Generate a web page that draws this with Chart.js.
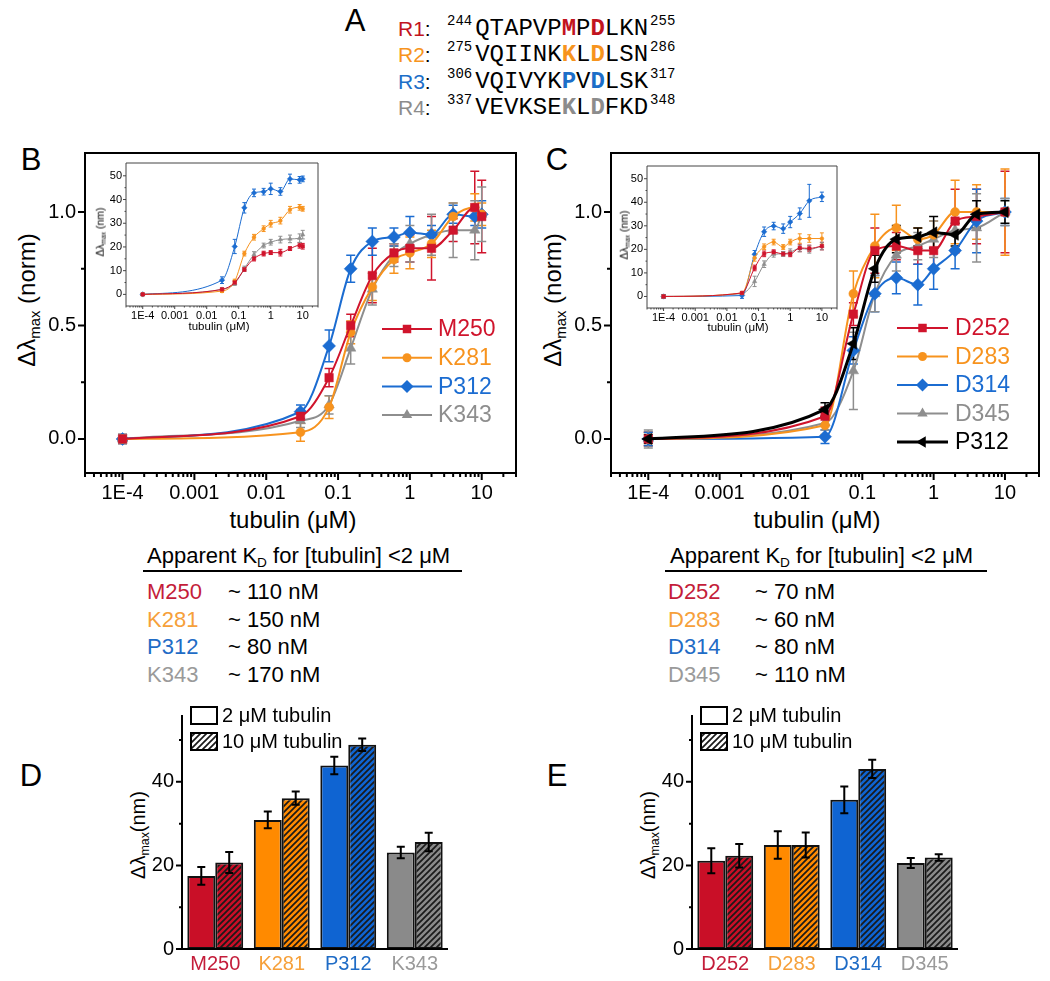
<!DOCTYPE html>
<html>
<head>
<meta charset="utf-8">
<title>Tubulin binding of R1-R4 mutants</title>
<script src="https://cdn.jsdelivr.net/npm/chart.js@4.4.1/dist/chart.umd.min.js"></script>
<style>
  html, body { margin: 0; padding: 0; background: #fff; }
  #page { position: relative; width: 1050px; height: 981px; overflow: hidden;
          font-family: 'Liberation Sans', Arial, sans-serif; color: #000; }
  #page canvas { position: absolute; }
  .txt { position: absolute; white-space: nowrap; line-height: 1; }
  .mid { transform: translate(-50%, -50%); }
  .lft { transform: translate(0, -50%); }
  .rot { transform: translate(-50%, -50%) rotate(-90deg); }
  .letter { font-size: 31px; }
  .sub { font-size: 62%; position: relative; top: 0.32em; }
  .seq { position: absolute; height: 24px; line-height: 24px; white-space: nowrap; }
  .seq .tag { position: absolute; left: 0; font-size: 21px; }
  .seq .aa { position: absolute; left: 49px; font-family: 'Liberation Mono', 'DejaVu Sans Mono', monospace; font-size: 24px; }
  .seq .sup { font-size: 14px; position: relative; top: -10px; margin: 0 3px 0 0; }
  .seq .sup.end { margin: 0 0 0 2px; }
  .seq b { font-weight: bold; }
  .rule { position: absolute; height: 2px; background: #000; }
</style>
</head>
<body>
<div id="page">
  <div class="txt mid letter" style="left:355px;top:20px">A</div>
  <div class="txt mid letter" style="left:31px;top:159px">B</div>
  <div class="txt mid letter" style="left:557px;top:159px">C</div>
  <div class="txt mid letter" style="left:31px;top:775px">D</div>
  <div class="txt mid letter" style="left:557px;top:775px">E</div>

  <div class="txt rot" style="left:27px;top:300px;font-size:24px">&Delta;&lambda;<span class="sub">max</span> (norm)</div>
  <div class="txt mid" style="left:293px;top:520px;font-size:24px">tubulin (&mu;M)</div>
  <div class="txt rot" style="left:553px;top:300px;font-size:24px">&Delta;&lambda;<span class="sub">max</span> (norm)</div>
  <div class="txt mid" style="left:817px;top:520px;font-size:24px">tubulin (&mu;M)</div>

  <div class="txt rot" style="left:100px;top:232px;font-size:10.5px;z-index:3">&Delta;&lambda;<span class="sub">max</span> (nm)</div>
  <div class="txt mid" style="left:219px;top:327px;font-size:11.5px;z-index:3">tubulin (&mu;M)</div>
  <div class="txt rot" style="left:624px;top:235px;font-size:10.5px;z-index:3">&Delta;&lambda;<span class="sub">max</span> (nm)</div>
  <div class="txt mid" style="left:738px;top:328px;font-size:11.5px;z-index:3">tubulin (&mu;M)</div>

  <div class="txt rot" style="left:138px;top:835px;font-size:20px">&Delta;&lambda;<span class="sub">max</span>(nm)</div>
  <div class="txt rot" style="left:648px;top:835px;font-size:20px">&Delta;&lambda;<span class="sub">max</span>(nm)</div>

  <div class="txt lft" style="left:147px;top:556px;font-size:22px">Apparent K<span class="sub">D</span> for [tubulin] &lt;2 &mu;M</div>
  <div class="rule" style="left:143px;top:570px;width:319px"></div>
  <div class="txt lft" style="left:670px;top:556px;font-size:22px">Apparent K<span class="sub">D</span> for [tubulin] &lt;2 &mu;M</div>
  <div class="rule" style="left:665px;top:570px;width:322px"></div>
</div>

<script>
// ---- data ----
// tubulin concentrations (uM); 1E-4 stands for the no-tubulin point
const concB = [1e-4, 0.03, 0.075, 0.15, 0.3, 0.6, 1, 2, 4, 8, 10];
const concC = [1e-4, 0.03, 0.075, 0.15, 0.3, 0.6, 1, 2, 4, 10];
const xDecades = [1e-4, 1e-3, 1e-2, 1e-1, 1, 10];
const xTickLabels = ['1E-4', '0.001', '0.01', '0.1', '1', '10'];

// panel B, normalised shift
const bM250 = [0, 0.10, 0.27, 0.50, 0.72, 0.82, 0.84, 0.84, 0.92, 1.02, 0.98];
const bK281 = [0, 0.03, 0.14, 0.47, 0.67, 0.79, 0.82, 0.86, 0.98, 1.02, 0.99];
const bP312 = [0, 0.12, 0.41, 0.75, 0.87, 0.89, 0.91, 0.90, 0.99, 0.98, 0.99];
const bK343 = [0, 0.08, 0.15, 0.40, 0.66, 0.81, 0.86, 0.90, 0.92, 0.92, 0.99];
const bM250Err = [0.02, 0.03, 0.04, 0.05, 0.12, 0.04, 0.06, 0.14, 0.05, 0.16, 0.16];
const bK281Err = [0.02, 0.04, 0.05, 0.05, 0.06, 0.06, 0.07, 0.06, 0.06, 0.06, 0.05];
const bP312Err = [0.02, 0.03, 0.07, 0.06, 0.06, 0.04, 0.07, 0.04, 0.04, 0.04, 0.06];
const bK343Err = [0.02, 0.03, 0.04, 0.07, 0.07, 0.05, 0.08, 0.09, 0.12, 0.13, 0.12];

// panel B inset, shift in nm
const ibM250 = [0, 2.1, 5.0, 10.5, 15.1, 17.2, 17.6, 17.6, 19.3, 20.7, 20.3];
const ibK281 = [0, 1.4, 5.6, 17.2, 24.1, 27.7, 29.8, 31.1, 35.7, 36.7, 36.1];
const ibP312 = [0, 6.0, 20.2, 36.5, 42.8, 43.3, 44.5, 43.4, 48.7, 48.3, 48.7];
const ibK343 = [0, 2.1, 4.6, 10.9, 16.8, 20.6, 22.0, 23.1, 23.4, 23.7, 25.2];
const ibM250Err = [0.4, 0.6, 0.8, 0.8, 1.0, 1.0, 0.8, 1.4, 0.8, 1.2, 1.2];
const ibK281Err = [0.4, 0.6, 0.8, 1.0, 1.2, 1.2, 1.4, 1.4, 1.4, 1.2, 1.0];
const ibP312Err = [0.4, 1.4, 3.0, 2.2, 1.6, 1.4, 2.4, 1.6, 2.0, 1.4, 1.2];
const ibK343Err = [0.4, 0.5, 0.8, 1.0, 1.2, 1.0, 1.2, 1.4, 1.6, 1.8, 1.8];

// panel C, normalised shift
const cD252 = [0, 0.10, 0.55, 0.83, 0.85, 0.83, 0.83, 0.96, 0.98, 1.00];
const cD283 = [0, 0.06, 0.64, 0.85, 0.93, 0.88, 0.90, 1.00, 1.00, 1.00];
const cD314 = [0, 0.01, 0.39, 0.64, 0.71, 0.68, 0.75, 0.83, 0.96, 1.00];
const cD345 = [0, 0.07, 0.30, 0.64, 0.81, 0.85, 0.88, 0.92, 0.93, 1.00];
const cP312 = [0, 0.13, 0.42, 0.75, 0.88, 0.89, 0.91, 0.90, 0.99, 1.00];
const cD252Err = [0.03, 0.04, 0.05, 0.10, 0.06, 0.06, 0.08, 0.14, 0.12, 0.18];
const cD283Err = [0.03, 0.04, 0.10, 0.14, 0.10, 0.05, 0.06, 0.14, 0.12, 0.19];
const cD314Err = [0.03, 0.03, 0.06, 0.08, 0.07, 0.09, 0.09, 0.08, 0.14, 0.06];
const cD345Err = [0.04, 0.03, 0.17, 0.08, 0.07, 0.06, 0.08, 0.08, 0.15, 0.06];
const cP312Err = [0.02, 0.03, 0.07, 0.06, 0.06, 0.04, 0.07, 0.05, 0.06, 0.05];

// panel C inset, shift in nm
const icD252 = [0, 1.5, 12.1, 18.1, 18.8, 18.1, 18.1, 20.6, 20.4, 21.4];
const icD283 = [0, 1.5, 16.4, 21.1, 23.1, 21.0, 23.1, 24.6, 24.6, 24.6];
const icD314 = [0, 0.4, 17.9, 27.5, 29.9, 28.8, 31.6, 35.2, 40.6, 42.3];
const icD345 = [0, 1.2, 6.4, 13.7, 17.9, 18.1, 18.8, 20.4, 20.0, 21.4];
const icD252Err = [0.8, 0.6, 1.2, 1.2, 1.0, 1.0, 1.2, 1.6, 1.4, 1.6];
const icD283Err = [0.8, 0.6, 1.4, 1.2, 1.2, 1.0, 1.2, 2.0, 1.6, 2.4];
const icD314Err = [0.8, 1.2, 1.6, 2.0, 1.6, 2.0, 2.4, 2.4, 7.0, 2.0];
const icD345Err = [0.8, 0.6, 2.2, 1.4, 1.2, 1.0, 1.4, 1.4, 1.6, 1.6];

// panels D and E, shift in nm at 2 and 10 uM tubulin
const dLabels = ['M250', 'K281', 'P312', 'K343'];
const d2uM = [17.5, 30.9, 43.9, 23.1];
const d2uMErr = [2.1, 2.0, 2.1, 1.4];
const d10uM = [20.7, 36.1, 48.9, 25.6];
const d10uMErr = [2.5, 1.6, 1.5, 2.2];
const eLabels = ['D252', 'D283', 'D314', 'D345'];
const e2uM = [21.1, 24.9, 35.7, 20.6];
const e2uMErr = [3.0, 3.3, 3.2, 1.2];
const e10uM = [22.3, 24.9, 43.1, 21.9];
const e10uMErr = [2.8, 3.0, 2.2, 0.8];

// apparent KD tables (nM)
const kdNamesB = ['M250', 'K281', 'P312', 'K343'];
const kdB = [110, 150, 80, 170];
const kdNamesC = ['D252', 'D283', 'D314', 'D345'];
const kdC = [70, 60, 80, 110];

// panel A repeats
const seqTags = ['R1', 'R2', 'R3', 'R4'];
const seqStart = [244, 275, 306, 337];
const seqEnd = [255, 286, 317, 348];
const seqs = ['QTAPVPMPDLKN', 'VQIINKKLDLSN', 'VQIVYKPVDLSK', 'VEVKSEKLDFKD'];
const seqHighlight = [6, 8];

// ---- colours ----
const RED = '#d0142c', ORANGE = '#f7931e', BLUE = '#1b6cd1', GRAY = '#8e8e8e', BLACK = '#000000';
const barRed = '#c90f27', barOrange = '#ff8a00', barBlue = '#0f64d2', barGray = '#8a8a8a';
const textColors = ['#c41d3a', '#f6a03a', '#1f6cc6', '#9a9a9a'];
const tagColors = ['#c2141e', '#f7941d', '#1c6ec8', '#8c8c8c'];

Chart.defaults.font.family = "'Liberation Sans', Arial, sans-serif";
Chart.defaults.color = '#000';

const page = document.getElementById('page');

function addText(html, left, top, size, color, cls) {
  const d = document.createElement('div');
  d.className = 'txt ' + (cls || 'lft');
  d.style.cssText = `left:${left}px;top:${top}px;font-size:${size}px;color:${color}`;
  d.innerHTML = html;
  page.appendChild(d);
}

// panel A
const seqRowY = [17, 43, 70, 96];
seqs.forEach((s, i) => {
  const row = document.createElement('div');
  row.className = 'seq';
  row.style.cssText = `left:398px;top:${seqRowY[i]}px`;
  let aa = '';
  for (let k = 0; k < s.length; k++) {
    aa += seqHighlight.includes(k) ? `<b style="color:${tagColors[i]}">${s[k]}</b>` : s[k];
  }
  row.innerHTML = `<span class="tag"><span style="color:${tagColors[i]}">${seqTags[i]}</span>:</span>` +
    `<span class="aa"><span class="sup">${seqStart[i]}</span>${aa}<span class="sup end">${seqEnd[i]}</span></span>`;
  page.appendChild(row);
});

// KD tables
const kdRowY = [592, 620, 647, 675];
kdNamesB.forEach((n, i) => {
  addText(n, 147, kdRowY[i], 22, textColors[i]);
  addText(`~ ${kdB[i]} nM`, 228, kdRowY[i], 22, '#000');
});
kdNamesC.forEach((n, i) => {
  addText(n, 668, kdRowY[i], 22, textColors[i]);
  addText(`~ ${kdC[i]} nM`, 755, kdRowY[i], 22, '#000');
});

function addCanvas(left, top, w, h, z) {
  const c = document.createElement('canvas');
  c.width = w; c.height = h;
  c.style.cssText = `left:${left}px;top:${top}px;width:${w}px;height:${h}px;z-index:${z}`;
  page.appendChild(c);
  return c;
}

function hatch(color) {
  const c = document.createElement('canvas');
  c.width = 6; c.height = 6;
  const g = c.getContext('2d');
  g.fillStyle = color;
  g.fillRect(0, 0, 6, 6);
  g.strokeStyle = '#1a1a1a';
  g.lineWidth = 1.7;
  g.beginPath();
  [-6, 0, 6].forEach(k => { g.moveTo(k - 1, 7); g.lineTo(k + 7, -1); });
  g.stroke();
  return g.createPattern(c, 'repeat');
}

function logMinor(min, max) {
  const out = [];
  for (let e = Math.floor(Math.log10(min)); e <= Math.ceil(Math.log10(max)); e++) {
    for (let m = 2; m <= 9; m++) {
      const v = m * Math.pow(10, e);
      if (v >= min && v <= max) out.push(v);
    }
  }
  return out;
}

function marker(ctx, style, r, rot, x, y) {
  ctx.save();
  ctx.translate(x, y);
  ctx.rotate((rot || 0) * Math.PI / 180);
  ctx.beginPath();
  if (style === 'circle') ctx.arc(0, 0, r, 0, 2 * Math.PI);
  else if (style === 'rect') { const s = r * Math.SQRT1_2; ctx.rect(-s, -s, 2 * s, 2 * s); }
  else if (style === 'rectRot') { ctx.moveTo(0, -r); ctx.lineTo(r, 0); ctx.lineTo(0, r); ctx.lineTo(-r, 0); ctx.closePath(); }
  else { ctx.moveTo(0, -r); ctx.lineTo(r * 0.866, r * 0.5); ctx.lineTo(-r * 0.866, r * 0.5); ctx.closePath(); }
  ctx.fill();
  ctx.restore();
}

function drawErrors(chart, o) {
  const ctx = chart.ctx;
  ctx.save();
  ctx.lineWidth = o.errW;
  chart.data.datasets.forEach((ds, i) => {
    if (!ds.errors) return;
    const meta = chart.getDatasetMeta(i);
    const ys = chart.scales[meta.yAxisID];
    ctx.strokeStyle = o.errColor || ds.borderColor;
    ctx.beginPath();
    meta.data.forEach((el, j) => {
      const raw = ds.data[j];
      const v = typeof raw === 'number' ? raw : raw.y;
      const e = ds.errors[j];
      const x = el.x, y1 = ys.getPixelForValue(v + e), y2 = ys.getPixelForValue(v - e);
      ctx.moveTo(x, y1); ctx.lineTo(x, y2);
      ctx.moveTo(x - o.cap, y1); ctx.lineTo(x + o.cap, y1);
      ctx.moveTo(x - o.cap, y2); ctx.lineTo(x + o.cap, y2);
    });
    ctx.stroke();
  });
  ctx.restore();
}

function drawAxes(chart, o) {
  const ctx = chart.ctx, a = chart.chartArea, xs = chart.scales.x, ys = chart.scales.y;
  ctx.save();
  ctx.strokeStyle = o.axisColor;
  ctx.lineWidth = o.lw;
  ctx.beginPath();
  if (o.box) ctx.rect(a.left, a.top, a.right - a.left, a.bottom - a.top);
  else { ctx.moveTo(a.left, a.top); ctx.lineTo(a.left, a.bottom); ctx.lineTo(a.right, a.bottom); }
  if (o.logX) {
    const tx = (v, len) => { const p = xs.getPixelForValue(v); ctx.moveTo(p, a.bottom); ctx.lineTo(p, a.bottom + len); };
    xDecades.forEach(v => tx(v, o.major));
    logMinor(xs.min, xs.max).forEach(v => tx(v, o.minor));
  }
  ys.ticks.forEach(t => {
    const p = ys.getPixelForValue(t.value);
    if (p < a.top + 3) return;
    const len = t.label !== '' ? o.major : o.minor;
    ctx.moveTo(a.left, p); ctx.lineTo(a.left - len, p);
  });
  ctx.stroke();
  ctx.restore();
}

function drawLegend(chart, L) {
  const ctx = chart.ctx;
  ctx.save();
  chart.data.datasets.forEach((ds, i) => {
    const y = L.y + i * L.dy;
    ctx.strokeStyle = ds.borderColor;
    ctx.lineWidth = ds.borderWidth;
    ctx.beginPath(); ctx.moveTo(L.x, y); ctx.lineTo(L.x + L.len, y); ctx.stroke();
    ctx.fillStyle = ds.borderColor;
    marker(ctx, ds.pointStyle, ds.pointRadius, ds.pointRotation, L.x + L.len / 2, y);
    ctx.font = `${L.size}px 'Liberation Sans', Arial, sans-serif`;
    ctx.textBaseline = 'middle';
    ctx.fillText(ds.label, L.tx, y + 1);
  });
  ctx.restore();
}

function drawBarLegend(chart, L) {
  const ctx = chart.ctx;
  ctx.save();
  chart.data.datasets.forEach((ds, i) => {
    const y = L.y + i * L.dy;
    ctx.fillStyle = ds.legendFill;
    ctx.fillRect(L.x, y, L.w, L.h);
    ctx.strokeStyle = '#000';
    ctx.lineWidth = 2;
    ctx.strokeRect(L.x, y, L.w, L.h);
    ctx.fillStyle = '#000';
    ctx.font = `${L.size}px 'Liberation Sans', Arial, sans-serif`;
    ctx.textBaseline = 'middle';
    ctx.fillText(ds.label, L.tx, y + L.h / 2 + 1);
  });
  ctx.restore();
}

function decor(o) {
  return {
    id: 'decor',
    beforeDraw(chart) {
      if (!o.fill) return;
      const a = chart.chartArea;
      chart.ctx.save();
      chart.ctx.fillStyle = '#fff';
      chart.ctx.fillRect(a.left, a.top, a.right - a.left, a.bottom - a.top);
      chart.ctx.restore();
    },
    beforeDatasetsDraw(chart) { if (!o.errOnTop) drawErrors(chart, o); },
    afterDatasetsDraw(chart) {
      if (o.errOnTop) drawErrors(chart, o);
      drawAxes(chart, o);
      if (o.legend) drawLegend(chart, o.legend);
      if (o.barLegend) drawBarLegend(chart, o.barLegend);
    }
  };
}

function curveChart(canvas, x, series, o) {
  return new Chart(canvas, {
    type: 'line',
    data: {
      datasets: series.map(s => ({
        label: s.name,
        data: x.map((xv, i) => ({ x: xv, y: s.y[i] })),
        errors: s.err,
        borderColor: s.color,
        backgroundColor: s.color,
        pointBackgroundColor: s.color,
        pointBorderColor: s.color,
        borderWidth: s.lw || o.lw,
        pointStyle: s.style,
        pointRotation: s.rot || 0,
        pointRadius: s.r * o.ps,
        pointBorderWidth: 0.5,
        cubicInterpolationMode: 'monotone',
        order: s.order || 0
      }))
    },
    options: {
      responsive: false,
      animation: false,
      events: [],
      layout: { padding: { top: o.pad.top, right: o.pad.right, left: 0, bottom: 0 } },
      plugins: { legend: { display: false }, tooltip: { enabled: false } },
      scales: {
        x: {
          type: 'logarithmic', min: 3e-5, max: 30,
          grid: { display: false, drawTicks: true, tickLength: o.major },
          border: { display: false },
          afterBuildTicks: s => { s.ticks = xDecades.map(v => ({ value: v })); },
          afterFit: s => { s.height = o.xH; },
          ticks: {
            autoSkip: false, maxRotation: 0, minRotation: 0, padding: o.xPad, color: '#000',
            font: { size: o.font, lineHeight: 1 },
            callback: (v, i) => xTickLabels[i]
          }
        },
        y: {
          min: o.yMin, max: o.yMax,
          grid: { display: false, drawTicks: true, tickLength: o.major },
          border: { display: false },
          afterFit: s => { s.width = o.yW; },
          ticks: {
            stepSize: o.yStep, includeBounds: false, autoSkip: false, padding: o.yPad, color: '#000',
            font: { size: o.font, lineHeight: 1 },
            callback: o.yLabel
          }
        }
      }
    },
    plugins: [decor({ box: true, logX: true, lw: o.frameW, axisColor: o.frameColor, major: o.major, minor: o.minor,
                      cap: o.cap, errW: o.errW, fill: o.fill, legend: o.legend })]
  });
}

const halfLabel = v => Math.abs(v * 2 - Math.round(v * 2)) < 1e-9 ? v.toFixed(1) : '';
const tenLabel = v => Math.round(v) % 10 === 0 ? String(Math.round(v)) : '';

const mainOpts = {
  lw: 2, ps: 1, font: 20, major: 7, minor: 4, xPad: 3, yPad: 2, xH: 72,
  yMin: -0.15, yMax: 1.26, yStep: 0.25, yLabel: halfLabel,
  frameW: 2, frameColor: '#000', cap: 4.5, errW: 1.5
};
const insetOpts = {
  lw: 1, ps: 0.42, font: 11, major: 3, minor: 1.5, xPad: 1, yPad: 1,
  yMin: -4.9, yMax: 55.4, yStep: 5, yLabel: tenLabel,
  frameW: 1, frameColor: '#444', cap: 2, errW: 1, fill: true
};

// panel B
curveChart(addCanvas(0, 140, 530, 405, 1), concB, [
  { name: 'M250', y: bM250, err: bM250Err, color: RED, style: 'rect', r: 6 },
  { name: 'K281', y: bK281, err: bK281Err, color: ORANGE, style: 'circle', r: 4.5 },
  { name: 'P312', y: bP312, err: bP312Err, color: BLUE, style: 'rectRot', r: 6.5 },
  { name: 'K343', y: bK343, err: bK343Err, color: GRAY, style: 'triangle', r: 6 }
], Object.assign({}, mainOpts, {
  pad: { top: 13, right: 14 }, yW: 85,
  legend: { x: 382, len: 50, tx: 438, y: 189, dy: 28.7, size: 23 }
}));

curveChart(addCanvas(88, 155, 240, 185, 2), concB, [
  { name: 'M250', y: ibM250, err: ibM250Err, color: RED, style: 'rect', r: 6 },
  { name: 'K281', y: ibK281, err: ibK281Err, color: ORANGE, style: 'circle', r: 4.5 },
  { name: 'P312', y: ibP312, err: ibP312Err, color: BLUE, style: 'rectRot', r: 6.5 },
  { name: 'K343', y: ibK343, err: ibK343Err, color: GRAY, style: 'triangle', r: 6 }
], Object.assign({}, insetOpts, { pad: { top: 8, right: 10 }, yW: 38, xH: 34 }));

// panel C
curveChart(addCanvas(530, 140, 520, 405, 1), concC, [
  { name: 'D252', y: cD252, err: cD252Err, color: RED, style: 'rect', r: 6 },
  { name: 'D283', y: cD283, err: cD283Err, color: ORANGE, style: 'circle', r: 4.5 },
  { name: 'D314', y: cD314, err: cD314Err, color: BLUE, style: 'rectRot', r: 6.5 },
  { name: 'D345', y: cD345, err: cD345Err, color: GRAY, style: 'triangle', r: 6 },
  { name: 'P312', y: cP312, err: cP312Err, color: BLACK, style: 'triangle', rot: 270, r: 6.5, lw: 3, order: -1 }
], Object.assign({}, mainOpts, {
  pad: { top: 13, right: 11 }, yW: 81,
  legend: { x: 367, len: 51, tx: 425, y: 188, dy: 28.5, size: 23 }
}));

curveChart(addCanvas(608, 158, 240, 185, 2), concC, [
  { name: 'D252', y: icD252, err: icD252Err, color: RED, style: 'rect', r: 6 },
  { name: 'D283', y: icD283, err: icD283Err, color: ORANGE, style: 'circle', r: 4.5 },
  { name: 'D314', y: icD314, err: icD314Err, color: BLUE, style: 'rectRot', r: 6.5 },
  { name: 'D345', y: icD345, err: icD345Err, color: GRAY, style: 'triangle', r: 6 }
], Object.assign({}, insetOpts, { pad: { top: 8, right: 11 }, yW: 39, xH: 35 }));

// panels D and E
function barChart(canvas, labels, v2, err2, v10, err10) {
  const fills = [barRed, barOrange, barBlue, barGray];
  return new Chart(canvas, {
    type: 'bar',
    data: {
      labels,
      datasets: [
        { label: '2 \u03bcM tubulin', data: v2, errors: err2, backgroundColor: fills, legendFill: '#fff',
          borderColor: '#111', borderWidth: 2, borderSkipped: false, categoryPercentage: 0.84, barPercentage: 1 },
        { label: '10 \u03bcM tubulin', data: v10, errors: err10, backgroundColor: fills.map(c => hatch(c)), legendFill: hatch('#fff'),
          borderColor: '#111', borderWidth: 2, borderSkipped: false, categoryPercentage: 0.84, barPercentage: 1 }
      ]
    },
    options: {
      responsive: false,
      animation: false,
      events: [],
      layout: { padding: { top: 25, right: 22, left: 0, bottom: 0 } },
      plugins: { legend: { display: false }, tooltip: { enabled: false } },
      scales: {
        x: {
          grid: { display: false, drawTicks: false },
          border: { display: false },
          afterFit: s => { s.height = 32; },
          ticks: { padding: 5, font: { size: 20, lineHeight: 1 }, color: c => textColors[c.index] }
        },
        y: {
          min: 0, max: 56,
          grid: { display: false, drawTicks: true, tickLength: 6 },
          border: { display: false },
          afterFit: s => { s.width = 82; },
          ticks: { stepSize: 10, padding: 2, font: { size: 20, lineHeight: 1 }, color: '#000',
                   callback: v => Math.round(v) % 20 === 0 ? String(Math.round(v)) : '' }
        }
      }
    },
    plugins: [decor({ box: false, lw: 2, axisColor: '#000', major: 6, minor: 3, errOnTop: true, cap: 4, errW: 2, errColor: '#000',
                      barLegend: { x: 91, w: 26, h: 17, y: 17, dy: 26, tx: 122, size: 20 } })]
  });
}

barChart(addCanvas(100, 690, 370, 291, 1), dLabels, d2uM, d2uMErr, d10uM, d10uMErr);
barChart(addCanvas(610, 690, 370, 291, 1), eLabels, e2uM, e2uMErr, e10uM, e10uMErr);
</script>
</body>
</html>
